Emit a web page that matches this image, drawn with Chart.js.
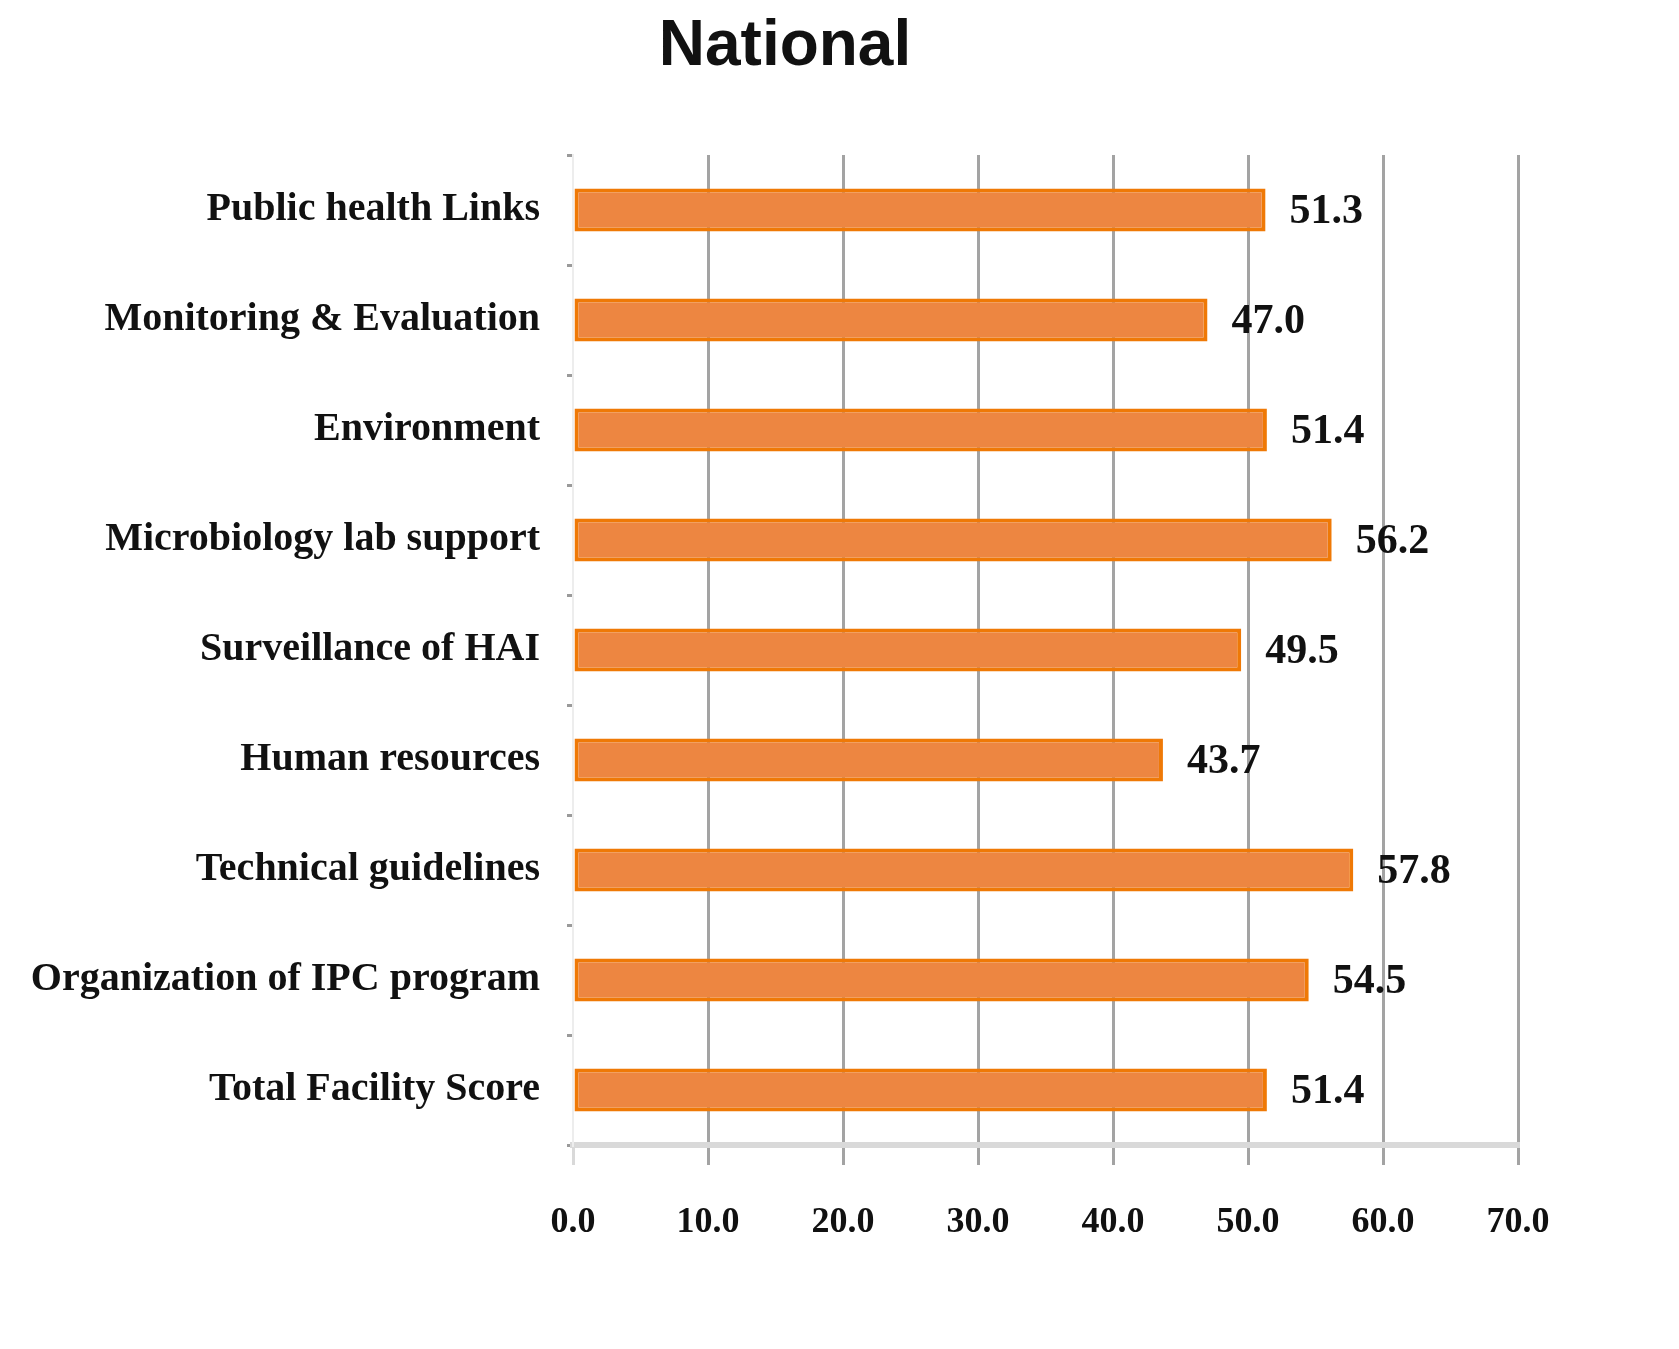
<!DOCTYPE html>
<html lang="en">
<head>
    <meta charset="UTF-8">
    <title>National</title>
    <script src="https://cdn.jsdelivr.net/npm/chart.js"></script>
    <style>
        html, body { margin: 0; padding: 0; background: #fff; }
        .wrap { position: relative; width: 1679px; height: 1349px; }
        .title {
            position: absolute; top: 6px; left: 585px; width: 400px;
            text-align: center; font: bold 64px "Liberation Sans", Arial, sans-serif;
            color: #111;
        }
        canvas { position: absolute; top: 0; left: 0; }
    </style>
</head>
<body>
    <div class="wrap">
        <div class="title">National</div>
        <canvas id="scoreChart" width="1679" height="1349"></canvas>
    </div>

    <script>
        const categories = [
            'Public health Links',
            'Monitoring & Evaluation',
            'Environment',
            'Microbiology lab support',
            'Surveillance of HAI',
            'Human resources',
            'Technical guidelines',
            'Organization of IPC program',
            'Total Facility Score'
        ];
        const scores = [51.3, 47.0, 51.4, 56.2, 49.5, 43.7, 57.8, 54.5, 51.4];
        const xTicks = [0, 10, 20, 30, 40, 50, 60, 70];

        const serif = '"Liberation Serif", "Times New Roman", serif';

        // draws the value next to each bar end
        const valueLabels = {
            id: 'valueLabels',
            afterDatasetsDraw(chart) {
                const ctx = chart.ctx;
                const meta = chart.getDatasetMeta(0);
                ctx.save();
                ctx.font = 'bold 42px ' + serif;
                ctx.fillStyle = '#111';
                ctx.textAlign = 'left';
                ctx.textBaseline = 'middle';
                meta.data.forEach((bar, i) => {
                    ctx.fillText(scores[i].toFixed(1), bar.x + 24, bar.y + 2);
                });
                ctx.restore();
            }
        };

        new Chart(document.getElementById('scoreChart'), {
            type: 'bar',
            data: {
                labels: categories,
                datasets: [{
                    data: scores,
                    backgroundColor: '#ED8641',
                    borderColor: '#EF7906',
                    borderWidth: 4,
                    borderSkipped: false,
                    barPercentage: 0.39,
                    categoryPercentage: 1.0
                }]
            },
            options: {
                indexAxis: 'y',
                responsive: false,
                animation: false,
                layout: { padding: { top: 155, right: 161, left: 0, bottom: 0 } },
                plugins: {
                    legend: { display: false },
                    title: { display: false },
                    tooltip: { enabled: false }
                },
                scales: {
                    x: {
                        min: 0,
                        max: 70,
                        afterBuildTicks: scale => {
                            scale.ticks = xTicks.map(v => ({ value: v }));
                        },
                        afterFit: scale => { scale.height = 204; },
                        grid: {
                            color: ctx => ctx.index === 0 ? 'rgba(0,0,0,0)' : '#A3A3A3',
                            lineWidth: 3,
                            drawTicks: true,
                            tickLength: 20,
                            tickColor: ctx => ctx.index === 0 ? '#D9D9D9' : '#A3A3A3'
                        },
                        border: { display: true, color: '#D9D9D9', width: 6 },
                        ticks: {
                            padding: 36,
                            color: '#111',
                            font: { family: serif, size: 36, weight: 'bold' },
                            callback: v => Number(v).toFixed(1)
                        }
                    },
                    y: {
                        afterFit: scale => { scale.width = 573; },
                        grid: {
                            drawOnChartArea: false,
                            drawTicks: true,
                            tickLength: 6,
                            tickColor: '#9A9A9A',
                            lineWidth: 3
                        },
                        border: { display: true, color: '#EDEDED', width: 2 },
                        ticks: {
                            padding: 27,
                            color: '#111',
                            font: { family: serif, size: 40, weight: 'bold' }
                        }
                    }
                }
            },
            plugins: [valueLabels]
        });
    </script>
</body>
</html>
